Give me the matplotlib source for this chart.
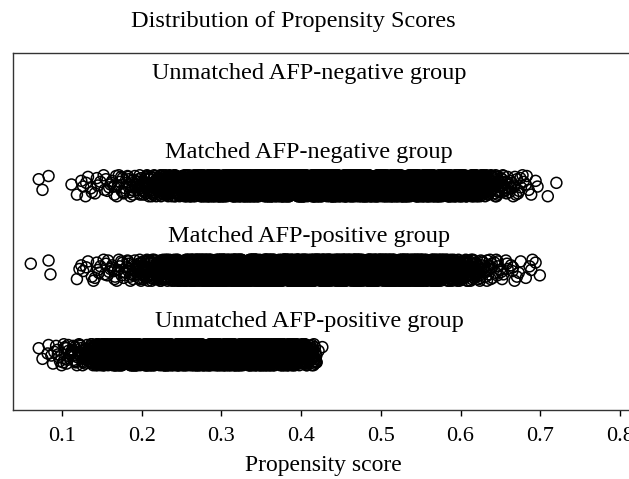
import matplotlib.pyplot as plt

plt.rcParams["font.family"] = ["Liberation Serif", "DejaVu Serif"]

# groups, top to bottom
group_names = ["Unmatched AFP-negative group", "Matched AFP-negative group",
               "Matched AFP-positive group", "Unmatched AFP-positive group"]
group_y = [4, 3, 2, 1]

# propensity scores, as counts per 0.01-wide bin
BIN_WIDTH = 0.01
unmatched_neg_start = 0.07
unmatched_neg_counts = []

matched_neg_start = 0.07
matched_neg_counts = ([2, 1, 0, 0, 2, 3, 4, 4, 5, 7, 9, 12, 15, 19, 24, 30, 38, 48, 62]
                      + [85, 112, 111, 113, 114, 112, 115, 114, 113, 115, 116, 114, 115, 113,
                         114, 115, 116, 114, 113, 115, 114, 112, 113, 114, 112, 111, 113, 112,
                         110, 111, 112, 110, 109, 100, 85]
                      + [70, 48, 30, 20, 14, 10, 7, 4, 2, 1, 0, 1])

matched_pos_start = 0.06
matched_pos_counts = ([1, 0, 2, 0, 0, 1, 3, 4, 5, 6, 7, 9, 12, 16, 21, 27, 35, 46, 60]
                      + [82, 108, 112, 110, 113, 114, 112, 115, 114, 116, 115, 114, 116, 115,
                         113, 114, 116, 115, 114, 113, 115, 114, 112, 113, 114, 112, 111, 113,
                         111, 108, 100, 95, 80, 60]
                      + [42, 30, 22, 16, 12, 8, 6, 4, 3, 3, 3, 0])

unmatched_pos_start = 0.07
unmatched_pos_counts = ([2, 4, 7, 10, 13, 17, 24, 45]
                        + [80, 105, 112, 114, 113, 115, 114, 116, 115, 114, 116, 115, 114,
                           113, 115, 114, 112, 113, 114, 112, 111, 110, 100, 85]
                        + [65, 45, 28, 2])

starts = [unmatched_neg_start, matched_neg_start, matched_pos_start, unmatched_pos_start]
counts = [unmatched_neg_counts, matched_neg_counts, matched_pos_counts, unmatched_pos_counts]

# fixed jitter pattern (vertical and within-bin spread)
JIT_Y = [0.62, -0.35, 0.91, -0.78, 0.14, -0.05, 0.47, -0.93, 0.29, -0.56,
         0.83, -0.21, 0.05, -0.67, 0.38, 0.72, -0.44, 0.98, -0.12]
JIT_X = [0.08, 0.55, 0.31, 0.87, 0.19, 0.66, 0.42, 0.95, 0.03, 0.74, 0.26, 0.61,
         0.48, 0.13, 0.82, 0.37, 0.69, 0.22, 0.91, 0.51, 0.34, 0.78, 0.58]
JIT_AMP = 0.13

x_ticks = [0.1, 0.2, 0.3, 0.4, 0.5, 0.6, 0.7, 0.8]
x_tick_labels = ["0.1", "0.2", "0.3", "0.4", "0.5", "0.6", "0.7", "0.8"]


def spread(start, cnts, y0):
    xs, ys = [], []
    k = 0
    for b, n in enumerate(cnts):
        left = start + b * BIN_WIDTH
        for i in range(n):
            xs.append(left + JIT_X[k % len(JIT_X)] * BIN_WIDTH)
            ys.append(y0 + JIT_Y[k % len(JIT_Y)] * JIT_AMP)
            k += 1
    return xs, ys


fig = plt.figure(figsize=(6.29, 4.79), dpi=100)
xmin, xmax = 0.0385, 0.85
ax = fig.add_axes([13 / 629, 69 / 479, (xmax - xmin) * 797 / 629, 357.3 / 479])

label_offset = [0.33, 0.40, 0.40, 0.40]
for name, y0, st, cn, off in zip(group_names, group_y, starts, counts, label_offset):
    xs, ys = spread(st, cn, y0)
    if xs:
        ax.scatter(xs, ys, s=62, facecolors="none", edgecolors="black", linewidths=1.1)
    ax.text(0.41, y0 + off, name, ha="center", va="center", fontsize=17.5)

ax.set_xlim(xmin, xmax)
ax.set_ylim(0.349, 4.578)
ax.set_yticks([])
ax.set_xticks(x_ticks)
ax.set_xticklabels(x_tick_labels, fontsize=16)
ax.tick_params(axis="x", direction="out", length=4.5, width=1.0, pad=8)
for sp in ax.spines.values():
    sp.set_linewidth(1.0)
    sp.set_color("#333333")

fig.text(293 / 629, 1 - 21 / 479, "Distribution of Propensity Scores",
         ha="center", va="center", fontsize=17.5)
fig.text(323 / 629, 1 - 466 / 479, "Propensity score",
         ha="center", va="center", fontsize=17)

fig.savefig("out.png", dpi=100)
